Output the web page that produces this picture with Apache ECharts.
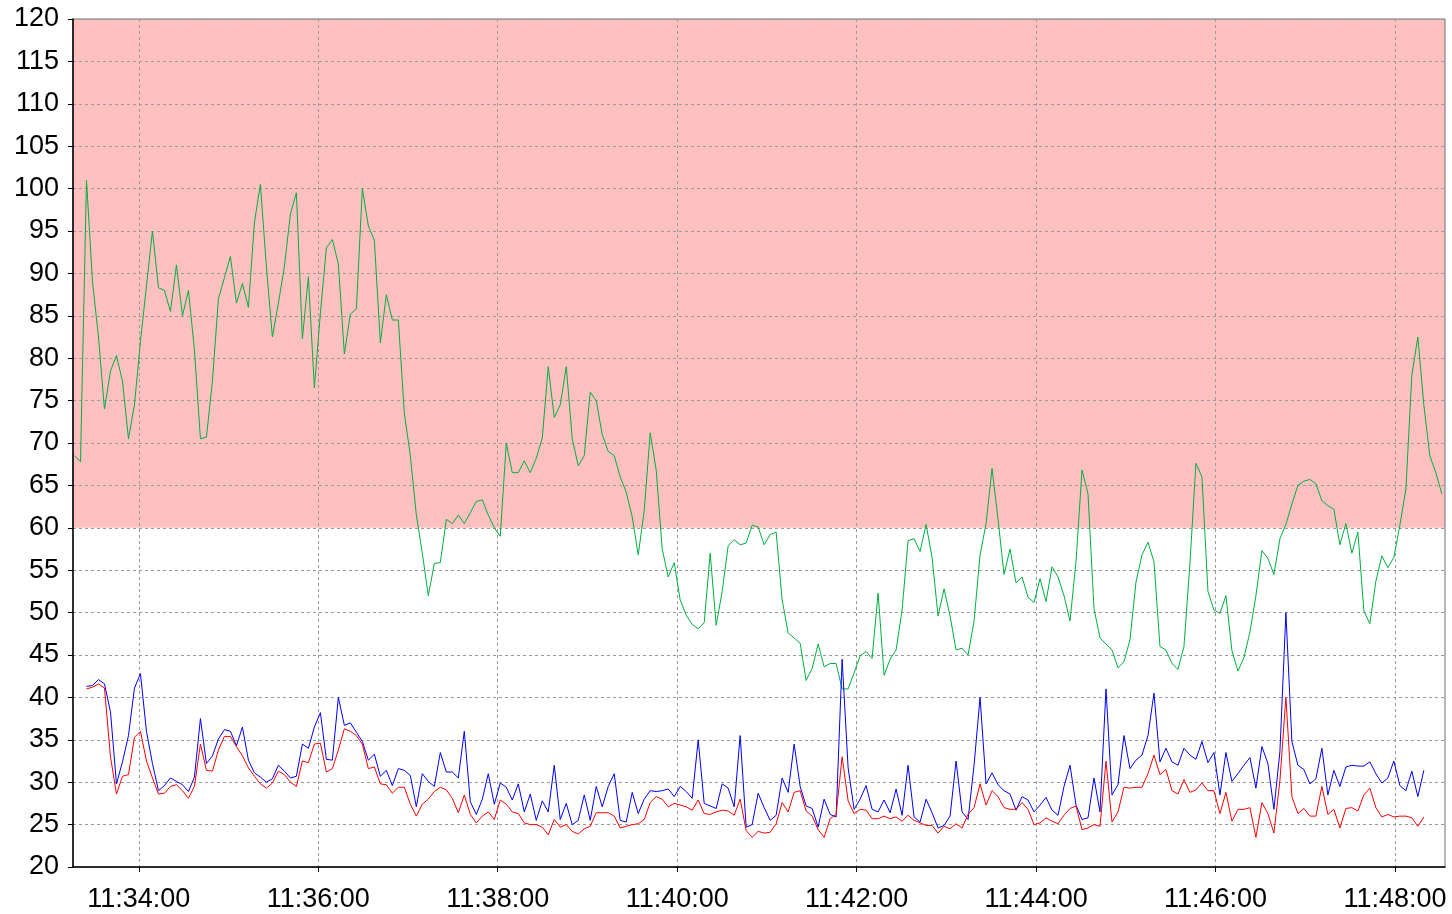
<!DOCTYPE html>
<html>
<head>
  <meta charset="UTF-8">
  <title>Trend 11:33 - 11:48</title>
  <style>
    html, body { margin: 0; padding: 0; background: #fff; }
    #chart { width: 1452px; height: 914px; }
  </style>
  <script src="https://cdn.jsdelivr.net/npm/echarts@6/dist/echarts.min.js"></script>
</head>
<body>
<div id="chart"></div>
<script>
  // time is in seconds after 11:00:00, one sample about every 4 s
  var greenStart = 1997;
  var redBlueStart = 2005.02;
  var step = 4.01;

  var xTickValues = [2040, 2160, 2280, 2400, 2520, 2640, 2760, 2880];
  var xTickLabels = ['11:34:00', '11:36:00', '11:38:00', '11:40:00', '11:42:00', '11:44:00', '11:46:00', '11:48:00'];

  var limitBand = [60, 120];

  var green = [
    68.5, 67.8, 101, 89, 82.5, 74, 78.5, 80.3, 77.3, 70.5,
    74.5, 82, 88.5, 95, 88.3, 88, 85.5, 91, 85, 88,
    81, 70.5, 70.7, 77.3, 87, 89.5, 92, 86.5, 88.8, 86,
    96, 100.5, 90.8, 82.5, 86.5, 90.8, 97, 99.5, 82.3, 89.6,
    76.5, 85.3, 93, 94, 91.1, 80.5, 85.2, 85.8, 100, 95.6,
    93.9, 81.8, 87.5, 84.5, 84.5, 73.5, 68.5, 61.5, 57, 52,
    55.8, 55.9, 61, 60.5, 61.5, 60.5, 61.8, 63.1, 63.3, 61.5,
    60, 59, 70, 66.5, 66.5, 67.9, 66.5, 68.2, 70.6, 79,
    73, 74.5, 79, 70.5, 67.3, 68.5, 76, 75, 71, 69,
    68.5, 66, 64.2, 61.3, 56.8, 62, 71.2, 66.8, 57.5, 54.2,
    55.9, 51.5, 49.7, 48.6, 48.1, 48.8, 57, 48.5, 52.5, 57.9,
    58.6, 58, 58.2, 60.3, 60.1, 58, 59.2, 59.5, 51.5, 47.6,
    47, 46.4, 42, 43.4, 46.3, 43.6, 44, 44, 41, 41,
    42.9, 44.9, 45.4, 44.6, 52.3, 42.6, 44.5, 45.6, 50.3, 58.5,
    58.7, 57.2, 60.4, 56.5, 49.6, 52.8, 49.6, 45.6, 45.8, 45,
    49, 56.8, 60.5, 67, 61, 54.5, 57.5, 53.5, 54.2, 51.8,
    51.2, 54, 51.3, 55.4, 54.2, 52, 49, 56, 66.8, 64,
    50.5, 47, 46.3, 45.6, 43.5, 44.2, 46.8, 53.6, 56.8, 58.3,
    56, 46, 45.6, 44, 43.3, 46, 55.8, 67.6, 66, 52.5,
    50.3, 49.9, 52, 45.5, 43.1, 44.7, 47.7, 52, 57.3, 56.4,
    54.5, 58.7, 60.4, 62.8, 65, 65.5, 65.7, 65.2, 63.2, 62.6,
    62.2, 58, 60.5, 57, 59.5, 50.2, 48.7, 53.7, 56.7, 55.3,
    56.5, 60.3, 64.5, 78, 82.5, 74.5, 68.5, 66.5, 64
  ];

  var blue = [
    41.3, 41.4, 42.1, 41.6, 38.3, 29.8, 32.4, 35.5, 41.1, 42.8,
    36, 32.2, 29, 29.6, 30.5, 30.1, 29.7, 28.9, 30.6, 37.5,
    32.2, 33.1, 35.1, 36.2, 36, 34.3, 36.5, 32.6, 31.1, 30.6,
    30, 30.4, 32, 31.3, 30.5, 30.7, 34.5, 34, 36.5, 38.2,
    32.7, 32.6, 40, 36.7, 37, 35.9, 34.8, 32.6, 33.3, 30.7,
    31.4, 29.6, 31.6, 31.4, 30.8, 27.1, 31, 30.1, 29.5, 33.5,
    31.2, 31.2, 30.5, 36, 27.7, 26.2, 28, 31, 27.4, 29.9,
    29.4, 27.9, 29.8, 26.5, 28.6, 25.5, 27.8, 26.5, 32, 25.6,
    27.5, 25, 25.5, 28.5, 25.5, 29.5, 27.1, 29.5, 31, 25.5,
    25.3, 28.8, 26.3, 28, 29, 28.9, 29, 29.2, 28.3, 29.5,
    28.9, 28.1, 35, 27.5, 27.2, 26.9, 29.8, 29.3, 27.1, 35.5,
    24.7, 25, 28.7, 27, 25.5, 26.1, 30.5, 28.8, 34.5, 29.5,
    27.2, 26.9, 24.7, 28, 26.2, 25.9, 44.5, 31.7, 26.8, 28,
    29.6, 26.8, 26.5, 27.9, 26.4, 29.2, 26.1, 32, 25.9, 25.3,
    28, 26.4, 24.6, 24.9, 26, 32.5, 26.5, 25.6, 32, 40,
    29.8, 31.1, 29.7, 29, 28.6, 26.7, 28.3, 27.9, 26.5, 27.3,
    28.2, 26.7, 26.1, 29.5, 32, 27.3, 25.6, 25.8, 30.5, 26.5,
    41, 28.5, 29.7, 35.5, 31.6, 32.6, 33.2, 35.5, 40.5, 32.4,
    34, 32.4, 32, 34, 33.2, 32.7, 34.8, 32.3, 33.5, 28.5,
    33.5, 30.1, 31, 32, 32.9, 29.3, 34.2, 32.2, 26.8, 33.6,
    50, 34.8, 32, 31.5, 29.8, 30.4, 34, 28.5, 31.4, 29.5,
    31.8, 32, 31.9, 31.9, 32.4, 31, 29.9, 30.5, 32.5, 29.6,
    29, 31.3, 28.3, 31.4
  ];

  var red = [
    41, 41.2, 41.6, 41.1, 33, 28.6, 30.7, 30.9, 35.3, 36,
    32.5, 30.5, 28.6, 28.7, 29.5, 29.7, 29, 28.1, 29.5, 34.5,
    31.4, 31.3, 33.8, 35.4, 35.4, 34.2, 33.1, 31.7, 30.7, 29.8,
    29.3, 29.9, 31.3, 30.9, 30, 29.5, 32.5, 32.3, 34.5, 34.6,
    31.2, 31.6, 33.8, 36.3, 36, 35.5, 34.5, 31.6, 31.8, 29.8,
    29.7, 28.7, 29.4, 29.4, 27.4, 26, 27.4, 28, 28.9, 29.4,
    29.1, 28.1, 26.4, 28.5, 26.2, 25.2, 26, 26.5, 25.6, 27.9,
    27.4, 26.5, 26.3, 25.2, 25, 25, 24.7, 23.8, 25.6, 24.7,
    25, 24.2, 23.9, 24.5, 24.8, 26.4, 26.4, 26.4, 26, 24.6,
    24.8, 25, 25.1, 25.6, 27.6, 28.3, 28, 27.1, 27.5, 27.3,
    27.1, 26.7, 27.9, 26.3, 26.2, 26.5, 26.7, 26.6, 26.1, 28,
    24.3, 23.5, 24.2, 24, 24.1, 25.1, 27.6, 26.5, 28.8, 29,
    26.6, 26, 24.4, 23.5, 25.7, 26.2, 33, 27.8, 26.3, 26.8,
    26.7, 25.7, 25.7, 26, 25.7, 25.9, 25.4, 26.1, 25.5, 25.2,
    24.9, 24.9, 24, 24.8, 24.5, 25.1, 24.6, 26.2, 27, 29.8,
    27.3, 29, 28.3, 27, 26.8, 26.8, 27.6, 26.8, 25, 25.2,
    25.8, 25.4, 25.1, 26.1, 26.9, 27.2, 24.4, 24.6, 25, 24.8,
    32.5, 25.3, 26.5, 29.4, 29.3, 29.4, 29.4, 31, 33.2, 30.9,
    31.5, 29, 28.6, 30.3, 28.8, 29.1, 29.9, 29, 29, 26.3,
    28.8, 25.4, 26.8, 26.8, 27, 23.5, 27.6, 26.3, 24, 30.2,
    40, 28.3, 26.3, 26.9, 26, 26, 29.5, 26.2, 26.8, 24.6,
    26.9, 27, 26.6, 28.5, 29.3, 27, 25.9, 26.2, 25.9, 26,
    26, 25.8, 24.8, 25.9
  ];

  function toPoints(start, values) {
    var out = [];
    for (var i = 0; i < values.length; i++) {
      out.push([start + i * step, values[i]]);
    }
    return out;
  }

  var font = "'Liberation Sans', Arial, sans-serif";
  var gridLine = { show: true, lineStyle: { color: '#9a9a9a', type: [3, 3], width: 1 } };

  var myChart = echarts.init(document.getElementById('chart'), null, { renderer: 'canvas' });

  var option = {
    animation: false,
    backgroundColor: '#fff',
    grid: {
      left: 73,
      right: 7,
      top: 19,
      bottom: 47,
      outerBoundsMode: 'none',
      show: true,
      borderColor: '#707070',
      borderWidth: 1
    },
    xAxis: {
      type: 'value',
      z: 1,
      min: 1996,
      max: 2913.4,
      axisLine: { show: true, lineStyle: { color: '#000', width: 1.5 } },
      axisTick: { show: true, length: 5, customValues: xTickValues, lineStyle: { color: '#000' } },
      axisLabel: {
        customValues: xTickValues,
        margin: 19,
        fontSize: 27,
        fontFamily: font,
        color: '#000',
        formatter: function (v) {
          var idx = xTickValues.indexOf(v);
          return idx >= 0 ? xTickLabels[idx] : '';
        }
      },
      splitLine: gridLine
    },
    yAxis: {
      type: 'value',
      z: 1,
      min: 20,
      max: 120,
      interval: 5,
      axisLine: { show: true, lineStyle: { color: '#000', width: 1.5 } },
      axisTick: { show: true, length: 5, lineStyle: { color: '#000' } },
      axisLabel: { margin: 14, fontSize: 27, fontFamily: font, color: '#000' },
      splitLine: gridLine
    },
    series: [{
      name: 'limit',
      type: 'line',
      z: -1,
      silent: true,
      data: [],
      markArea: {
        z: -1,
        silent: true,
        itemStyle: { color: '#ffc0c0' },
        data: [[{ yAxis: limitBand[0] }, { yAxis: limitBand[1] }]]
      }
    }, {
      name: 'green',
      type: 'line',
      showSymbol: false,
      lineStyle: { color: '#00b040', width: 1 },
      data: toPoints(greenStart, green)
    }, {
      name: 'blue',
      type: 'line',
      showSymbol: false,
      lineStyle: { color: '#0000ff', width: 1 },
      data: toPoints(redBlueStart, blue)
    }, {
      name: 'red',
      type: 'line',
      showSymbol: false,
      lineStyle: { color: '#ff0000', width: 1 },
      data: toPoints(redBlueStart, red)
    }]
  };
  myChart.setOption(option);
</script>
</body>
</html>
